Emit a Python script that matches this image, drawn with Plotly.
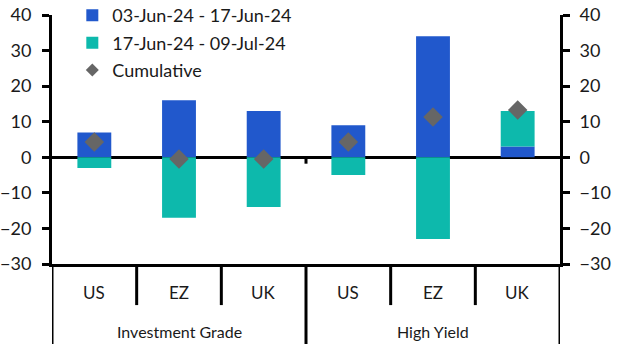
import plotly.graph_objects as go

countries = ["US", "EZ", "UK", "US", "EZ", "UK"]
groups = ["Investment Grade", "High Yield"]
period1 = [7, 16, 13, 9, 34, 3]
period2 = [-3, -17, -14, -5, -23, 10]
cumulative = [4.3, -0.5, -0.5, 4.3, 11.3, 13.3]
yticks = [-30, -20, -10, 0, 10, 20, 30, 40]

BLUE = "#2158CC"
TEAL = "#0DB9AC"
GREY = "#666666"
FONT = "Lato"

xs = list(range(len(countries)))

fig = go.Figure()
fig.add_trace(go.Bar(x=xs, y=period1, name="03-Jun-24 - 17-Jun-24", legendgroup="a",
                     marker=dict(color=BLUE, line=dict(width=0)), width=0.4))
fig.add_trace(go.Bar(x=xs, y=period2, name="17-Jun-24 - 09-Jul-24", legendgroup="b",
                     marker=dict(color=TEAL, line=dict(width=0)), width=0.4))
fig.add_trace(go.Scatter(x=xs, y=cumulative, name="Cumulative", mode="markers",
                         showlegend=False,
                         marker=dict(symbol="diamond", size=15, color=GREY)))
# legend-only entry with a smaller diamond
fig.add_trace(go.Scatter(x=[None], y=[None], name="Cumulative", mode="markers",
                         legendgroup="c",
                         marker=dict(symbol="diamond", size=10, color=GREY)))
fig.add_trace(go.Scatter(x=xs, y=cumulative, yaxis="y2", mode="markers",
                         marker=dict(opacity=0), showlegend=False, hoverinfo="skip"))

fig.update_layout(
    width=618, height=344,
    margin=dict(l=52, r=58, t=15, b=80, autoexpand=False),
    paper_bgcolor="white", plot_bgcolor="white",
    barmode="relative",
    font=dict(family=FONT, size=17, color="#1a1a1a"),
    showlegend=True,
    legend=dict(x=0.04, y=1.072, xanchor="left", yanchor="top",
                bgcolor="rgba(0,0,0,0)", font=dict(size=18),
                tracegroupgap=1, itemwidth=30),
    xaxis=dict(range=[-0.5, 5.5], showticklabels=False, ticks="",
               showgrid=False, zeroline=False,
               showline=True, linecolor="black", linewidth=3),
    yaxis=dict(range=[-30, 40], tickvals=yticks, ticks="outside", ticklen=7,
               tickwidth=3, tickcolor="black", showgrid=False,
               zeroline=True, zerolinecolor="black", zerolinewidth=2.5,
               showline=True, linecolor="black", linewidth=3,
               ticklabelstandoff=7, tickfont=dict(size=18)),
    yaxis2=dict(range=[-30, 40], tickvals=yticks, overlaying="y", side="right",
                ticks="outside", ticklen=7, tickwidth=3, tickcolor="black",
                showgrid=False, zeroline=False,
                showline=True, linecolor="black", linewidth=3,
                ticklabelstandoff=6, tickfont=dict(size=18)),
)

shapes = []
for b in [0.5, 1.5, 3.5, 4.5]:
    shapes.append(dict(type="line", xref="x", yref="paper", x0=b, x1=b,
                       y0=0, y1=-0.165, line=dict(color="black", width=3)))
for b in [-0.5, 2.5, 5.5]:
    shapes.append(dict(type="line", xref="x", yref="paper", x0=b, x1=b,
                       y0=0, y1=-0.33, line=dict(color="black", width=3)))
shapes.append(dict(type="line", xref="x", yref="y", x0=2.5, x1=2.5,
                   y0=0, y1=-1.8, line=dict(color="black", width=3)))
fig.update_layout(shapes=shapes)

ann = []
for i, c in enumerate(countries):
    ann.append(dict(x=i, y=-0.113, xref="x", yref="paper", text=c,
                    showarrow=False, font=dict(size=17), yanchor="middle"))
for gi, g in enumerate(groups):
    ann.append(dict(x=1 + 3 * gi, y=-0.272, xref="x", yref="paper", text=g,
                    showarrow=False, font=dict(size=16), yanchor="middle"))
fig.update_layout(annotations=ann)

fig.write_html("out.html")
